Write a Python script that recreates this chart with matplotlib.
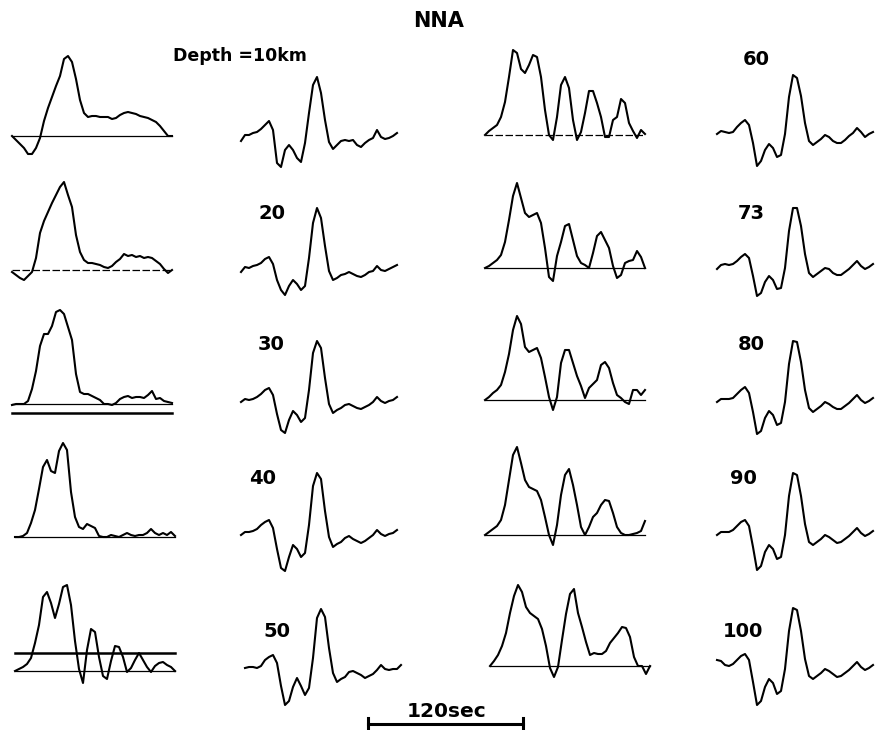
import matplotlib
matplotlib.use('Agg')
import matplotlib.pyplot as plt
import numpy as np

W, H = 877, 730
PX_PER_SEC = 155 / 120      # from the 120 sec bar
DT = 4 / PX_PER_SEC         # traces read every 4 px

# source time functions (height above zero line, px)
src_10 = [0, -4, -8, -12, -18, -18, -12, -2, 15, 28, 39, 50, 60, 77, 80, 74, 57, 36, 23, 19,
          20, 20, 19, 19, 19, 17, 18, 21, 23, 24, 23, 22, 20, 19, 18, 16, 14, 10, 5, 0, 0]
src_20 = [-2, -5, -8, -10, -6, -2, 12, 37, 49, 58, 67, 75, 83, 88, 75, 63, 35, 18, 10, 7,
          7, 6, 5, 3, 2, 4, 8, 11, 16, 14, 15, 13, 14, 12, 13, 12, 9, 6, 1, -3, 0]
src_30 = [-1, 0, 0, 0, 3, 15, 33, 58, 70, 70, 78, 92, 94, 90, 77, 64, 30, 12, 10, 10,
          8, 6, 4, 0, 0, -1, 1, 5, 7, 8, 6, 7, 7, 6, 9, 13, 5, 6, 3, 2, 1]
src_40 = [0, 0, 1, 4, 14, 27, 48, 70, 77, 66, 64, 86, 94, 87, 45, 20, 10, 8, 13, 11,
          9, 1, 0, 0, 2, 1, 0, 2, 4, 2, 1, 2, 2, 4, 8, 4, 2, 4, 2, 5, 1]
src_50 = [0, 2, 4, 7, 13, 28, 46, 74, 79, 68, 53, 67, 84, 86, 66, 30, 2, -12, 21, 42,
          39, 14, -5, -8, 10, 25, 24, 14, -1, 3, 11, 18, 11, 4, -1, 5, 8, 9, 6, 4, 0]
src_60 = [0, 4, 7, 10, 18, 33, 58, 85, 82, 66, 62, 70, 80, 78, 58, 25, 0, -5, 18, 50,
          58, 47, 15, -5, 3, 22, 44, 44, 32, 18, -2, -2, 15, 18, 36, 32, 12, 4, -3, 5, 1]
src_73 = [0, 2, 5, 8, 13, 26, 48, 72, 85, 70, 55, 51, 53, 55, 45, 20, -9, -13, 12, 26,
          42, 44, 28, 12, 5, 3, 0, 15, 32, 36, 28, 20, 2, -10, -7, 5, 7, 8, 17, 11, 0]
src_80 = [0, 3, 7, 10, 15, 28, 46, 70, 84, 76, 53, 48, 50, 52, 42, 23, 3, -10, 3, 37,
          50, 50, 37, 24, 14, 2, 12, 16, 20, 35, 38, 32, 17, 5, 2, -2, -4, 10, 10, 5, 10]
src_90 = [0, 3, 6, 9, 15, 30, 55, 80, 88, 72, 55, 48, 46, 44, 35, 18, 0, -10, 10, 40,
          60, 66, 50, 30, 8, 0, 8, 18, 22, 30, 35, 34, 22, 8, 2, 0, 0, 1, 2, 4, 14]
src_100 = [0, 5, 11, 20, 33, 53, 70, 81, 74, 59, 53, 50, 47, 37, 20, -2, -11, -1, 26, 52,
           72, 77, 53, 39, 24, 11, 13, 12, 12, 15, 23, 28, 33, 39, 38, 29, 9, 0, 0, -8, 0]

# seismograms (px above start level)
wav_10 = [-6, 0, 0, 2, 3, 6, 10, 14, 5, -28, -32, -15, -10, -15, -23, -27, -8, 22, 50, 58,
          42, 15, -7, -14, -10, -6, -5, -6, -5, -10, -12, -8, -5, -3, 5, -2, -4, -3, -1, 2]
wav_20 = [-4, 1, 0, 2, 3, 5, 9, 11, 4, -12, -22, -27, -18, -12, -16, -22, -18, 10, 45, 60,
          50, 22, -3, -12, -10, -7, -6, -4, -6, -8, -9, -7, -4, -3, 2, -2, -3, -1, 1, 3]
wav_30 = [-2, 1, 0, 1, 3, 6, 10, 12, 5, -14, -30, -33, -20, -11, -15, -22, -18, 10, 47, 59,
          52, 22, -4, -13, -10, -8, -5, -4, -6, -8, -9, -7, -5, -2, 3, -1, -3, -1, 0, 3]
wav_40 = [-2, 1, 1, 2, 4, 8, 11, 13, 5, -16, -35, -38, -24, -12, -16, -24, -20, 8, 47, 60,
          54, 22, -4, -14, -11, -9, -5, -3, -6, -8, -10, -8, -5, -2, 3, -1, -3, -1, 0, 3]
wav_50 = [0, 1, 1, 0, 2, 8, 11, 13, 5, -18, -37, -33, -19, -10, -18, -27, -20, 10, 50, 59,
          51, 20, -5, -14, -11, -9, -4, -3, -5, -7, -10, -8, -6, -2, 3, -1, -2, -1, -1, 3]
wav_60 = [-1, 2, 1, 0, 1, 6, 10, 13, 8, -10, -33, -28, -17, -11, -15, -24, -22, -1, 36, 58,
          55, 37, 10, -8, -12, -9, -6, -2, -4, -8, -10, -10, -7, -3, 0, 5, 1, -4, -1, 1]
wav_73 = [-3, 1, 2, 1, 2, 5, 9, 12, 8, -10, -30, -27, -16, -10, -14, -23, -22, -2, 35, 58,
          58, 40, 12, -7, -11, -8, -5, -2, -3, -7, -9, -9, -6, -3, 1, 5, 0, -3, -1, 2]
wav_80 = [-2, 1, 1, 1, 2, 6, 10, 13, 7, -12, -34, -31, -18, -11, -15, -25, -23, -2, 36, 59,
          58, 38, 10, -8, -12, -9, -6, -2, -4, -7, -9, -9, -6, -3, 1, 5, 0, -3, -1, 2]
wav_90 = [-2, 1, 1, 1, 3, 7, 11, 13, 7, -14, -37, -33, -19, -12, -16, -26, -24, -2, 37, 60,
          58, 37, 9, -9, -12, -9, -6, -2, -4, -7, -10, -9, -6, -3, 1, 5, 0, -3, -1, 2]
wav_100 = [7, 6, 2, 1, 3, 7, 11, 13, 7, -15, -38, -34, -20, -12, -16, -27, -24, -2, 36, 59,
           57, 36, 8, -9, -12, -9, -6, -2, -4, -7, -10, -9, -6, -3, 1, 5, 0, -3, -1, 2]

depth_labels = ['20', '30', '40', '50', '60', '73', '80', '90', '100']

# layout (pixels in the 877x730 picture)
src_left = [src_10, src_20, src_30, src_40, src_50]
src_right = [src_60, src_73, src_80, src_90, src_100]
wav_left = [wav_10, wav_20, wav_30, wav_40, wav_50]
wav_right = [wav_60, wav_73, wav_80, wav_90, wav_100]

c0_x = [12, 12, 12, 15, 15]
c0_y = [136, 270, 404, 537, 671]
c1_x = [241, 241, 241, 241, 245]
c1_y = [135, 268, 400, 533, 668]
c2_x = [485, 485, 485, 485, 490]
c2_y = [135, 268, 400, 535, 666]
c3_x = [717, 717, 717, 717, 717]
c3_y = [133, 266, 400, 533, 667]

lab_pos = [(258, 219), (258, 350), (249, 484), (263, 637),
           (743, 65), (738, 219), (738, 350), (730, 484), (723, 637)]


def panel(fig, x0, y0, left=8, right=175, up=110, down=50):
    ax = fig.add_axes([(x0 - left) / W, 1 - (y0 + down) / H,
                       (left + right) / W, (up + down) / H])
    ax.set_xlim(-left / PX_PER_SEC, right / PX_PER_SEC)
    ax.set_ylim(-down, up)
    ax.axis('off')
    ax.patch.set_visible(False)
    return ax


def draw_source(fig, x0, y0, vals, ls='-'):
    ax = panel(fig, x0, y0)
    t = np.arange(len(vals)) * DT
    ax.plot([t[0], t[-1]], [0, 0], color='black', lw=0.9, ls=ls)
    ax.plot(t, vals, color='black', lw=1.5)
    return ax


def draw_wave(fig, x0, y0, vals):
    ax = panel(fig, x0, y0)
    t = np.arange(len(vals)) * DT
    ax.plot(t, vals, color='black', lw=1.5)
    return ax


fig = plt.figure(figsize=(W / 100, H / 100), dpi=100)

for i in range(5):
    ls_l = (0, (6, 2)) if i == 1 else '-'
    ls_r = (0, (6, 2)) if i == 0 else '-'
    ax = draw_source(fig, c0_x[i], c0_y[i], src_left[i], ls=ls_l)
    if i == 2:
        t = np.arange(len(src_left[i])) * DT
        ax.plot([t[0], t[-1]], [-9, -9], color='black', lw=1.8)
    if i == 4:
        t = np.arange(len(src_left[i])) * DT
        ax.plot([t[0], t[-1]], [18, 18], color='black', lw=1.8)
    draw_source(fig, c2_x[i], c2_y[i], src_right[i], ls=ls_r)
    draw_wave(fig, c1_x[i], c1_y[i], wav_left[i])
    draw_wave(fig, c3_x[i], c3_y[i], wav_right[i])

for lab, (x, y) in zip(depth_labels, lab_pos):
    fig.text(x / W, 1 - y / H, lab, fontsize=14, fontweight='bold', ha='left', va='baseline')

fig.text(439 / W, 1 - 27 / H, 'NNA', fontsize=15, fontweight='bold', ha='center', va='baseline')
fig.text(173 / W, 1 - 61 / H, 'Depth =10km', fontsize=12.5, fontweight='bold',
         ha='left', va='baseline')

# 120 sec scale bar
bar_sec = 120
bax = fig.add_axes([368 / W, 1 - 733 / H, 155 / W, 18 / H])
bax.set_xlim(0, bar_sec)
bax.set_ylim(-9, 9)
bax.axis('off')
bax.patch.set_visible(False)
bax.plot([0, bar_sec], [0, 0], color='black', lw=2.2, clip_on=False)
bax.plot([0, 0], [-6, 6], color='black', lw=2.2, clip_on=False)
bax.plot([bar_sec, bar_sec], [-6, 6], color='black', lw=2.2, clip_on=False)
fig.text(447 / W, 1 - 717 / H, '120sec', fontsize=14.5, fontweight='bold', ha='center', va='baseline')

fig.savefig('out.png', dpi=100)
